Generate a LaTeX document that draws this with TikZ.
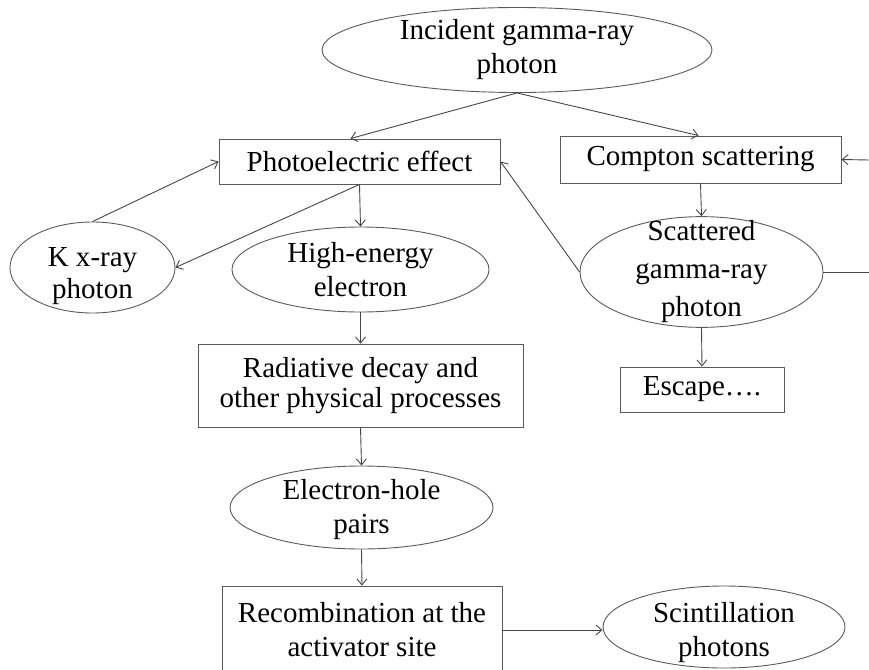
\documentclass[tikz,border=0pt]{standalone}
\usepackage{fontspec}
\setmainfont{Liberation Serif}
\usetikzlibrary{arrows.meta, shapes.geometric}
\definecolor{edgegray}{RGB}{90,90,90}
\definecolor{linegray}{RGB}{70,70,70}
\tikzset{
  procbox/.style={draw=edgegray, line width=0.9pt, rectangle, inner sep=0pt, align=center},
  stateell/.style={draw=edgegray, line width=0.9pt, ellipse, inner xsep=0pt, inner ysep=-12pt, align=center},
  flow/.style={-{Straight Barb[length=6pt,width=10pt]}, linegray, line width=0.9pt},
}

\begin{document}
\begin{tikzpicture}[x=1pt, y=-1pt, font=\fontsize{29}{34}\selectfont]
  \clip (0,0) rectangle (869,669);

  % Photon and first interactions
  \node[stateell, minimum width=390pt, minimum height=85pt] (inc) at (517,50) {Incident gamma-ray\\photon};
  \node[procbox, minimum width=281pt, minimum height=45pt] (photo) at (359.5,161.5) {Photoelectric effect};
  \node[procbox, minimum width=281pt, minimum height=47pt] (compton) at (700.5,159.5) {Compton scattering};

  % Products
  \node[stateell, minimum width=165pt, minimum height=91pt, font=\fontsize{29}{32}\selectfont] (kxray) at (92.5,267.5) {\rule{0pt}{36pt}K x-ray\\photon};
  \node[stateell, minimum width=257pt, minimum height=85pt] (hienergy) at (360.5,269.5) {High-energy\\electron};
  \node[stateell, minimum width=243pt, minimum height=110pt, font=\fontsize{29}{38}\selectfont] (scatter) at (701.5,272) {Scattered\\gamma-ray\\photon};
  \node[procbox, minimum width=164pt, minimum height=45pt] (escape) at (702,389.5) {Escape\dots.};

  % Down to the light
  \node[procbox, minimum width=325pt, minimum height=83pt, font=\fontsize{29}{30}\selectfont] (radiative) at (360.5,385.5) {Radiative decay and\\other physical processes};
  \node[stateell, minimum width=263pt, minimum height=83pt] (ehpairs) at (361.5,507.5) {\rule{0pt}{24pt}Electron-hole\\pairs};
  \node[procbox, minimum width=280pt, minimum height=88pt] (recomb) at (362,630) {Recombination at the\\activator site};
  \node[stateell, minimum width=242pt, minimum height=82pt] (scint) at (724,627) {\rule{0pt}{32pt}Scintillation\\photons};

  % Loop ends at the edge
  \coordinate (loopout) at (869,272);
  \coordinate (loopin) at (869,160);

  % Connectors
  \draw[flow] (inc.south) -- ([xshift=-9pt]photo.north);
  \draw[flow] (inc.south) -- ([xshift=-2pt]compton.north);
  \draw[flow] (photo.south) -- (hienergy.north);
  \draw[flow] (photo.south) -- (kxray.east);
  \draw[flow] (kxray.north) -- (photo.west);
  \draw[flow] (scatter.west) -- (photo.east);
  \draw[flow] (compton.south) -- (scatter.north);
  \draw[linegray, line width=0.9pt] (scatter.east) -- (loopout);
  \draw[flow] (loopin) -- (compton.east);
  \draw[flow] (scatter.south) -- (escape.north);
  \draw[flow] (hienergy.south) -- (radiative.north);
  \draw[flow] (radiative.south) -- (ehpairs.north);
  \draw[flow] (ehpairs.south) -- (recomb.north);
  \draw[flow] (recomb.east) -- (recomb.east -| scint.west);
\end{tikzpicture}
\end{document}
